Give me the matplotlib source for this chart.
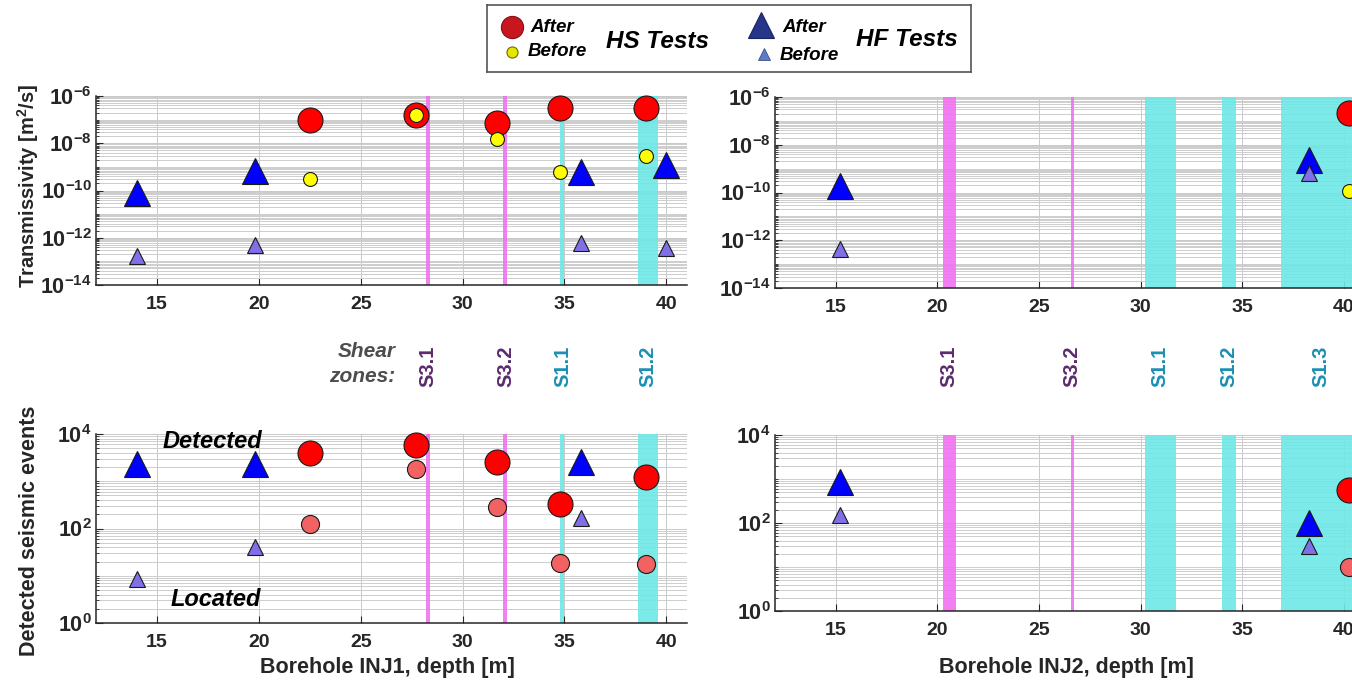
import numpy as np
import matplotlib
matplotlib.use("Agg")
import matplotlib.pyplot as plt
from matplotlib.ticker import FixedLocator, LogLocator, NullFormatter, FuncFormatter
from matplotlib.transforms import blended_transform_factory

plt.rcParams['font.family'] = ['Liberation Sans', 'DejaVu Sans']
plt.rcParams['mathtext.fontset'] = 'custom'
plt.rcParams['mathtext.rm'] = 'Liberation Sans'
plt.rcParams['mathtext.bf'] = 'Liberation Sans:bold'

# ---- data: borehole INJ1 ----
inj1_hs_depth = [22.5, 27.7, 31.7, 34.8, 39.0]
inj1_hs_T_after = [1.0e-7, 1.6e-7, 7e-8, 3e-7, 3e-7]
inj1_hs_T_before = [3.2e-10, 1.5e-7, 1.5e-8, 6e-10, 3e-9]
inj1_hs_detected = [4000, 5900, 2500, 330, 1260]
inj1_hs_located = [126, 1860, 282, 19, 18]

inj1_hf_depth = [14.0, 19.8, 35.8, 40.0]
inj1_hf_T_after = [8e-11, 7e-10, 6e-10, 1.2e-9]
inj1_hf_T_before = [1.7e-13, 5e-13, 6e-13, 3.6e-13]
inj1_hf_detected = [2300, 2300, 2500, np.nan]
inj1_hf_located = [8.5, 40, 170, np.nan]

# ---- data: borehole INJ2 ----
inj2_hs_depth = [40.25]
inj2_hs_T_after = [2.1e-7]
inj2_hs_T_before = [1.2e-10]
inj2_hs_detected = [560]
inj2_hs_located = [10]

inj2_hf_depth = [15.2, 38.3]
inj2_hf_T_after = [1.9e-10, 2.3e-9]
inj2_hf_T_before = [4.4e-13, 6.6e-10]
inj2_hf_detected = [850, 100]
inj2_hf_located = [150, 30]

# ---- shear zones (start, end, name, family) ----
inj1_zones = [(28.2, 28.4, 'S3.1', 'S3'), (32.0, 32.2, 'S3.2', 'S3'),
              (34.8, 35.0, 'S1.1', 'S1'), (38.6, 39.6, 'S1.2', 'S1')]
inj2_zones = [(20.25, 20.9, 'S3.1', 'S3'), (26.55, 26.7, 'S3.2', 'S3'),
              (30.2, 31.75, 'S1.1', 'S1'), (34.0, 34.7, 'S1.2', 'S1'),
              (36.9, 41.5, 'S1.3', 'S1')]

depth_ticks = [15, 20, 25, 30, 35, 40]
T_ticks = [1e-14, 1e-12, 1e-10, 1e-8, 1e-6]
ev_ticks = [1e0, 1e2, 1e4]

zone_fill = {'S3': '#f272f2', 'S1': '#6fe8e8'}
zone_text = {'S3': '#5c2a6e', 'S1': '#1c8fb2'}

W, H = 1352, 687
fig = plt.figure(figsize=(W / 100, H / 100), dpi=100)


def px_axes(x0, y0, x1, y1):
    return fig.add_axes([x0 / W, 1 - y1 / H, (x1 - x0) / W, (y1 - y0) / H])


def setup(ax, ylim, yticks):
    ax.set_yscale('log')
    ax.set_xlim(12, 41)
    ax.set_ylim(*ylim)
    ax.set_xticks(depth_ticks)
    ax.yaxis.set_major_locator(FixedLocator(yticks))
    ax.yaxis.set_minor_locator(LogLocator(base=10, subs=np.arange(1, 10), numticks=200))
    ax.yaxis.set_minor_formatter(NullFormatter())
    ax.yaxis.set_major_formatter(FuncFormatter(lambda v, p: r'$\mathbf{10^{%d}}$' % round(np.log10(v))))
    ax.set_axisbelow(True)
    ax.grid(which='major', color='#c8c8c8', lw=0.7)
    ax.grid(which='minor', axis='y', color='#cdcdcd', lw=0.7)
    for s in ['top', 'right']:
        ax.spines[s].set_visible(False)
    for s in ['left', 'bottom']:
        ax.spines[s].set_color('#262626')
        ax.spines[s].set_linewidth(1.1)
    ax.tick_params(which='both', direction='in', colors='#262626')
    ax.tick_params(axis='x', labelsize=14, pad=8)
    ax.tick_params(axis='y', labelsize=15.5, pad=3)
    ax.tick_params(which='major', length=5)
    ax.tick_params(which='minor', length=2.5)
    for lab in ax.get_xticklabels():
        lab.set_fontweight('bold')


def zones(ax, zlist):
    for a, b, name, fam in zlist:
        ax.axvspan(a, b, color=zone_fill[fam], alpha=0.9, lw=0, zorder=1)


def zone_labels(ax, zlist):
    tr = blended_transform_factory(ax.transData, fig.transFigure)
    for a, b, name, fam in zlist:
        xc = (a + min(b, 40.9)) / 2
        ax.text(xc, 1 - 366 / H, name, transform=tr, rotation=90, ha='center', va='center',
                fontsize=14.5, fontweight='bold', color=zone_text[fam], clip_on=False)


def pts(ax, x, y, marker, ms, fc):
    ax.plot(x, y, ls='none', marker=marker, ms=ms, mfc=fc, mec='#1a1a1a', mew=0.8, zorder=3,
            clip_on=False)


ax_t1 = px_axes(96, 96, 686.7, 285)
ax_t2 = px_axes(775, 97, 1364, 288)
ax_e1 = px_axes(96, 434, 686.7, 623)
ax_e2 = px_axes(775, 435, 1364, 611)

for ax in [ax_t1, ax_t2]:
    setup(ax, (1e-14, 1e-6), T_ticks)
for ax in [ax_e1, ax_e2]:
    setup(ax, (1e0, 1e4), ev_ticks)

for ax in [ax_t1, ax_e1]:
    zones(ax, inj1_zones)
for ax in [ax_t2, ax_e2]:
    zones(ax, inj2_zones)

# transmissivity panels
pts(ax_t1, inj1_hs_depth, inj1_hs_T_after, 'o', 18, '#ff0000')
pts(ax_t1, inj1_hs_depth, inj1_hs_T_before, 'o', 10, '#ffff00')
pts(ax_t1, inj1_hf_depth, inj1_hf_T_after, '^', 19, '#0000ff')
pts(ax_t1, inj1_hf_depth, inj1_hf_T_before, '^', 11, '#7f6fe8')

pts(ax_t2, inj2_hs_depth, inj2_hs_T_after, 'o', 18, '#ff0000')
pts(ax_t2, inj2_hs_depth, inj2_hs_T_before, 'o', 10, '#ffff00')
pts(ax_t2, inj2_hf_depth, inj2_hf_T_after, '^', 19, '#0000ff')
pts(ax_t2, inj2_hf_depth, inj2_hf_T_before, '^', 11, '#7f6fe8')

# seismic event panels
pts(ax_e1, inj1_hs_depth, inj1_hs_detected, 'o', 18, '#ff0000')
pts(ax_e1, inj1_hs_depth, inj1_hs_located, 'o', 13, '#f26262')
pts(ax_e1, inj1_hf_depth, inj1_hf_detected, '^', 19, '#0000ff')
pts(ax_e1, inj1_hf_depth, inj1_hf_located, '^', 11, '#7f6fe8')

pts(ax_e2, inj2_hs_depth, inj2_hs_detected, 'o', 18, '#ff0000')
pts(ax_e2, inj2_hs_depth, inj2_hs_located, 'o', 13, '#f26262')
pts(ax_e2, inj2_hf_depth, inj2_hf_detected, '^', 19, '#0000ff')
pts(ax_e2, inj2_hf_depth, inj2_hf_located, '^', 11, '#7f6fe8')

ax_e1.text(17.7, 7000, 'Detected', ha='center', va='center', fontsize=17,
           fontweight='bold', style='italic', zorder=4)
ax_e1.text(17.9, 3.1, 'Located', ha='center', va='center', fontsize=17,
           fontweight='bold', style='italic', zorder=4)

# shear zone labels
zone_labels(ax_t1, inj1_zones)
zone_labels(ax_t2, inj2_zones)
tr = blended_transform_factory(ax_t1.transData, fig.transFigure)
ax_t1.text(26.7, 1 - 364 / H, 'Shear\nzones:', transform=tr, ha='right', va='center',
           fontsize=15, fontweight='bold', style='italic', color='#4d4d4d', linespacing=1.35)

# axis labels
fig.text(28 / W, 1 - 186 / H, 'Transmissivity [m$^\\mathbf{2}$/s]', rotation=90,
         ha='center', va='center', fontsize=14.5, fontweight='bold', color='#262626')
fig.text(30 / W, 1 - 531 / H, 'Detected seismic events', rotation=90,
         ha='center', va='center', fontsize=15.5, fontweight='bold', color='#262626')
fig.text(387 / W, 1 - 668 / H, 'Borehole INJ1, depth [m]', ha='center', va='center',
         fontsize=15.5, fontweight='bold', color='#262626')
fig.text(1066 / W, 1 - 668 / H, 'Borehole INJ2, depth [m]', ha='center', va='center',
         fontsize=15.5, fontweight='bold', color='#262626')

# legend box (pixel layout)
lg = px_axes(487, 5, 971, 72)
lg.set_xlim(487, 971)
lg.set_ylim(72, 5)
lg.set_xticks([])
lg.set_yticks([])
for s in lg.spines.values():
    s.set_color('#555555')
    s.set_linewidth(1.2)
lg.plot([512], [27], 'o', ms=16, mfc='#c8161e', mec='#8a0f14', mew=0.8)
lg.plot([512], [52], 'o', ms=8, mfc='#e6e600', mec='#6b6b00', mew=0.8)
lg.plot([761], [25], '^', ms=19, mfc='#26358a', mec='#1a2460', mew=0.8)
lg.plot([764], [54], '^', ms=9, mfc='#5a7cc4', mec='#3a5090', mew=0.6)
kw = dict(fontweight='bold', style='italic', va='center', ha='left')
lg.text(530, 27, 'After', fontsize=13.5, **kw)
lg.text(528, 52, 'Before', fontsize=13.5, **kw)
lg.text(606, 41, 'HS Tests', fontsize=17.5, **kw)
lg.text(782, 28, 'After', fontsize=13.5, **kw)
lg.text(780, 55, 'Before', fontsize=13.5, **kw)
lg.text(856, 39, 'HF Tests', fontsize=17.5, **kw)

fig.savefig('out.png', dpi=100)
